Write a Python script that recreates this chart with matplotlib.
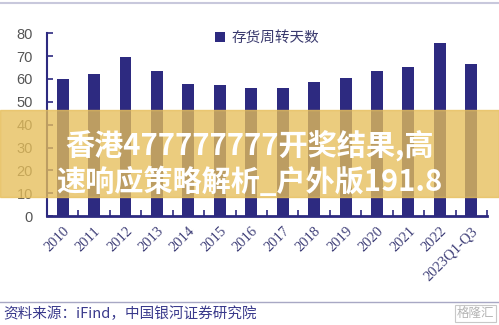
import matplotlib.pyplot as plt
import numpy as np

plt.rcParams['font.family'] = ['Noto Sans CJK SC', 'DejaVu Sans']

# 存货周转天数
years = ['2010', '2011', '2012', '2013', '2014', '2015', '2016', '2017',
         '2018', '2019', '2020', '2021', '2022', '2023Q1-Q3']
days = [60, 62, 69.5, 63.3, 57.8, 57.3, 56, 56, 58.8, 60.4, 63.4, 65, 75.5, 66.4]
yticks = [0, 10, 20, 30, 40, 50, 60, 70, 80]

navy = '#2D2A80'
fig = plt.figure(figsize=(4.99, 3.25), dpi=100)
ax = fig.add_axes([0.094, 0.335, 0.882, 0.563])

x = np.arange(len(years))
ax.bar(x, days, width=0.38, color=navy, label='存货周转天数', zorder=2)

ax.set_xlim(-0.5, len(years) - 0.5)
ax.set_ylim(0, 80)
ax.set_yticks(yticks)
ax.set_yticklabels([str(v) for v in yticks], color='#555555', fontsize=10.5,
                   family='Liberation Sans')
ax.set_xticks(x)
ax.set_xticklabels(years, rotation=45, ha='right', va='top', rotation_mode='anchor',
                   color='#3F3F78', fontsize=10.5, family='Liberation Serif')
ax.set_xticks(np.arange(len(years) + 1) - 0.5, minor=True)
ax.tick_params(axis='x', which='major', length=0, pad=6)
ax.tick_params(axis='x', which='minor', direction='in', length=4, width=1.2, color=navy)
ax.tick_params(axis='y', direction='in', length=4, width=1.2, color=navy, pad=10)

for s in ['top', 'right']:
    ax.spines[s].set_visible(False)
ax.spines['left'].set_color(navy)
ax.spines['left'].set_linewidth(1.5)
ax.spines['bottom'].set_color(navy)
ax.spines['bottom'].set_linewidth(2)

ax.legend(loc='upper center', bbox_to_anchor=(0.5, 1.085), frameon=False,
          fontsize=10.5, handlelength=0.7, handleheight=0.7, handletextpad=0.4,
          labelcolor='#3A3A6E')

# frame lines and source
fig.add_artist(plt.Line2D([0, 1], [0.99, 0.99], color='#C8C8DC', lw=1.5))
fig.add_artist(plt.Line2D([0, 1], [0.07, 0.07], color='#A8A8C4', lw=1))
fig.text(0.006, 0.035, '资料来源：iFind，中国银河证券研究院', fontsize=10.5,
         color='#3A3A8C', style='italic', va='center')
fig.text(0.99, 0.035, '格隆汇', fontsize=9, color='#B5B5B5', ha='right', va='center',
         bbox=dict(boxstyle='square,pad=0.15', fc='none', ec='#C8C8C8', lw=0.8))

# overlay band with caption
fig.patches.append(plt.Rectangle((0, 0.394), 1, 0.266, transform=fig.transFigure,
                                 color='#E6BE5A', alpha=0.78, zorder=5))
fig.text(0.5, 0.497, '香港477777777开奖结果,高\n速响应策略解析_户外版191.8',
         ha='center', va='center', fontsize=21, fontweight='bold', color='white',
         linespacing=1.25, zorder=6)

fig.savefig('out.png', dpi=100)
